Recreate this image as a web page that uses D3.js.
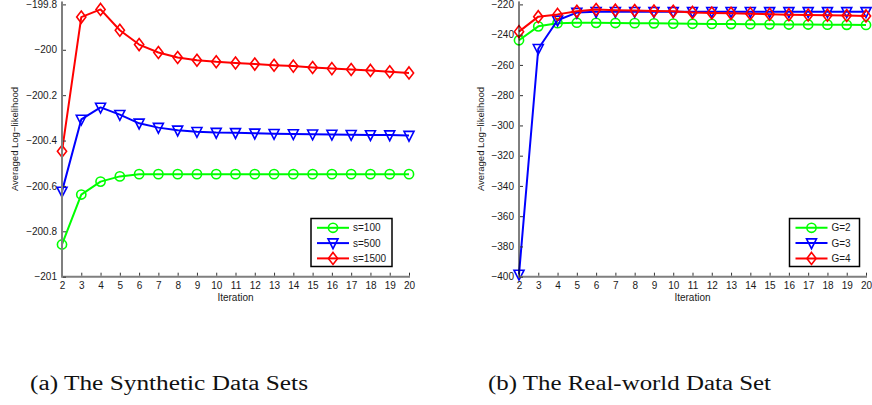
<!DOCTYPE html>
<html>
<head>
<meta charset="utf-8">
<script src="https://cdn.jsdelivr.net/npm/d3@7"></script>
<style>
  html, body { margin: 0; padding: 0; background: #fff; }
  svg { display: block; }
  .tick text { font-family: "Liberation Sans", Arial, sans-serif; }
</style>
</head>
<body>
<svg id="fig" width="872" height="405"></svg>
<script>
// Iterations on the x axis
const iterations = d3.range(2, 21);

// (a) synthetic data sets: averaged log-likelihood per iteration
const synthS100  = [-200.858, -200.638, -200.581, -200.558, -200.548, -200.548, -200.548, -200.548, -200.548, -200.548,
                    -200.548, -200.548, -200.548, -200.548, -200.548, -200.548, -200.548, -200.548, -200.548];
const synthS500  = [-200.624, -200.307, -200.254, -200.286, -200.324, -200.343, -200.355, -200.361, -200.365, -200.366,
                    -200.368, -200.370, -200.371, -200.372, -200.373, -200.374, -200.375, -200.376, -200.378];
const synthS1500 = [-200.447, -199.856, -199.822, -199.914, -199.977, -200.012, -200.034, -200.046, -200.053, -200.058,
                    -200.063, -200.068, -200.072, -200.078, -200.083, -200.087, -200.091, -200.097, -200.102];

// (b) real-world data set: averaged log-likelihood per iteration
const realG2 = [-243.7, -234.5, -232.4, -232.1, -232.2, -232.3, -232.4, -232.5, -232.7, -232.8,
                -232.9, -233.0, -233.1, -233.2, -233.3, -233.3, -233.4, -233.5, -233.6];
const realG3 = [-398.5, -249.3, -230.5, -225.4, -224.9, -224.8, -224.8, -224.8, -224.8, -224.8,
                -224.8, -224.8, -224.8, -224.9, -224.9, -224.9, -224.9, -224.9, -224.9];
const realG4 = [-238.0, -228.1, -226.6, -224.6, -223.4, -223.8, -224.0, -224.4, -224.6, -225.3,
                -225.7, -225.9, -226.1, -226.5, -226.8, -227.0, -227.1, -227.3, -227.6];

const synthTicks = [-201, -200.8, -200.6, -200.4, -200.2, -200, -199.8];
const realTicks  = [-400, -380, -360, -340, -320, -300, -280, -260, -240, -220];

const synthLabels = ["s=100", "s=500", "s=1500"];
const realLabels  = ["G=2", "G=3", "G=4"];
const seriesColors = ["#00ff00", "#0000ff", "#ff0000"];
const markerKinds  = ["circle", "triangle", "diamond"];

const captions = ["(a) The Synthetic Data Sets", "(b) The Real-world Data Set"];

const svg = d3.select("#fig");
const sansFont = '"Liberation Sans", Arial, sans-serif';

function markerPath(kind) {
  if (kind === "triangle") return "M-5,-4.2L5,-4.2L0,5.6Z";
  return "M0,-6L4.6,0L0,6L-4.6,0Z";
}

function drawMarker(g, kind, x, y, color) {
  if (kind === "circle") {
    g.append("circle").attr("cx", x).attr("cy", y).attr("r", 4.6)
      .attr("fill", "none").attr("stroke", color).attr("stroke-width", 1.6);
  } else {
    g.append("path").attr("d", markerPath(kind))
      .attr("transform", `translate(${x},${y})`)
      .attr("fill", "none").attr("stroke", color).attr("stroke-width", 1.6)
      .attr("stroke-linejoin", "miter");
  }
}

function panel(opts) {
  const { x0, x1, yTop, yBot, yDomain, yTicks, series, labels, yAxisColor, yAxisWidth,
          legendBox, labelX } = opts;
  const g = svg.append("g");
  const x = d3.scaleLinear().domain([2, 20]).range([x0, x1]);
  const y = d3.scaleLinear().domain(yDomain).range([yBot, yTop]);

  // series lines and markers
  const line = d3.line().x((d, i) => x(iterations[i])).y(d => y(d));
  series.forEach((vals, si) => {
    const sg = g.append("g");
    sg.append("path").datum(vals).attr("d", line)
      .attr("fill", "none").attr("stroke", seriesColors[si]).attr("stroke-width", 2)
      .attr("stroke-linejoin", "round");
    vals.forEach((v, i) => drawMarker(sg, markerKinds[si], x(iterations[i]), y(v), seriesColors[si]));
  });

  // x axis
  const xAxis = d3.axisBottom(x).tickValues(iterations).tickSize(0).tickPadding(7)
    .tickFormat(d3.format("d"));
  const xg = g.append("g").attr("transform", `translate(0,${yBot})`).call(xAxis);
  xg.select(".domain").attr("stroke", "#7f7f7f").attr("stroke-width", 2)
    .attr("d", `M${x0},0H${x1 + 1}`);
  xg.selectAll(".tick text").attr("font-size", 10).attr("fill", "#1a1a1a")
    .attr("dy", "0.55em");
  xg.selectAll(".tick").append("line").attr("y1", -1).attr("y2", -4)
    .attr("stroke", "#333").attr("stroke-width", 1);

  // y axis
  const yAxis = d3.axisLeft(y).tickValues(yTicks).tickSize(0).tickPadding(5)
    .tickFormat(d => d3.format("")(d).replace("-", "\u2212"));
  const yg = g.append("g").attr("transform", `translate(${x0},0)`).call(yAxis);
  yg.select(".domain").attr("stroke", yAxisColor).attr("stroke-width", yAxisWidth)
    .attr("d", `M0,${yBot + 1}V${yTop - 3}`);
  yg.selectAll(".tick text").attr("font-size", 10).attr("fill", "#1a1a1a");
  yg.selectAll(".tick").append("line").attr("x1", 1).attr("x2", 4)
    .attr("stroke", "#333").attr("stroke-width", 1);

  // axis titles
  g.append("text").attr("x", (x0 + x1) / 2).attr("y", 301)
    .attr("text-anchor", "middle").attr("font-family", sansFont).attr("font-size", 10)
    .attr("fill", "#1a1a1a").text("Iteration");
  g.append("text").attr("transform", `translate(${labelX},139) rotate(-90)`)
    .attr("text-anchor", "middle").attr("font-family", sansFont).attr("font-size", 9.5)
    .attr("fill", "#1a1a1a").text("Averaged Log\u2212likelihood");

  // legend
  const lb = legendBox;
  const lg = g.append("g");
  lg.append("rect").attr("x", lb.x).attr("y", lb.y).attr("width", lb.w).attr("height", lb.h)
    .attr("fill", "#fff").attr("stroke", "#000").attr("stroke-width", 1.5);
  labels.forEach((lab, i) => {
    const ly = lb.y + 9.3 + i * 15.3;
    lg.append("line").attr("x1", lb.x + 6).attr("x2", lb.x + 38).attr("y1", ly).attr("y2", ly)
      .attr("stroke", seriesColors[i]).attr("stroke-width", 2);
    drawMarker(lg, markerKinds[i], lb.x + 22, ly, seriesColors[i]);
    lg.append("text").attr("x", lb.x + 42).attr("y", ly).attr("dy", "0.36em")
      .attr("font-family", sansFont).attr("font-size", 10).attr("fill", "#1a1a1a").text(lab);
  });
}

panel({
  x0: 62, x1: 409, yTop: 4.4, yBot: 276.7, yDomain: [-201, -199.8], yTicks: synthTicks,
  series: [synthS100, synthS500, synthS1500], labels: synthLabels,
  yAxisColor: "#7f7f7f", yAxisWidth: 2,
  legendBox: { x: 311, y: 218.5, w: 81, h: 48 }, labelX: 18
});

panel({
  x0: 519, x1: 866, yTop: 4.4, yBot: 276.7, yDomain: [-400, -220], yTicks: realTicks,
  series: [realG2, realG3, realG4], labels: realLabels,
  yAxisColor: "#000", yAxisWidth: 1,
  legendBox: { x: 789.5, y: 218.5, w: 70, h: 48 }, labelX: 484
});

// sub-figure captions
const capX = [30, 488];
const capW = [278, 283];
captions.forEach((c, i) => {
  svg.append("text").attr("x", capX[i]).attr("y", 390)
    .attr("font-family", '"Liberation Serif", "Times New Roman", serif')
    .attr("font-size", 20).attr("fill", "#111")
    .attr("textLength", capW[i]).attr("lengthAdjust", "spacingAndGlyphs")
    .text(c);
});
</script>
</body>
</html>
